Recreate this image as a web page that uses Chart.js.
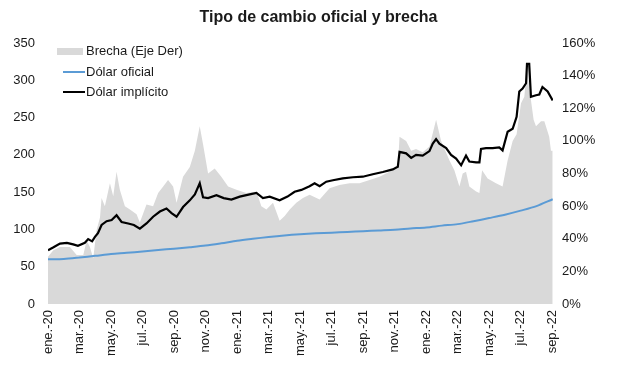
<!DOCTYPE html>
<html><head><meta charset="utf-8">
<script src="https://cdn.jsdelivr.net/npm/chart.js@4"></script>
<style>
html,body{margin:0;padding:0;background:#fff;}
#wrap{position:relative;width:617px;height:378px;overflow:hidden;}
#title{position:absolute;left:0;top:8px;width:637px;text-align:center;font:bold 16px "Liberation Sans",Arial,sans-serif;color:#1a1a1a;}
canvas{position:absolute;left:0;top:0;}
</style></head><body>
<div id="wrap"><canvas id="c" width="617" height="378"></canvas><div id="title">Tipo de cambio oficial y brecha</div></div>
<script>
// x values are months since 1 Jan 2020
const tickMonths = [0,2,4,6,8,10,12,14,16,18,20,22,24,26,28,30,32];
const tickLabels = ['ene.-20','mar.-20','may.-20','jul.-20','sep.-20','nov.-20','ene.-21','mar.-21','may.-21','jul.-21','sep.-21','nov.-21','ene.-22','mar.-22','may.-22','jul.-22','sep.-22'];

const brechaMonths = [0,0.34,0.76,1.39,1.82,2.24,2.45,2.66,2.87,3.08,3.3,3.4,3.61,3.93,4.14,4.35,4.56,4.88,5.2,5.62,5.83,6.25,6.67,6.99,7.31,7.62,7.94,8.16,8.57,9.0,9.32,9.63,9.84,10.16,10.58,11.0,11.43,11.96,12.59,13.23,13.54,13.86,14.28,14.7,15.02,15.34,15.76,16.18,16.6,17.24,17.87,18.5,19.14,19.77,20.41,21.04,21.67,22.2,22.31,22.73,23.05,23.36,23.78,24.21,24.63,24.95,25.48,25.79,26.11,26.32,26.53,26.74,27.17,27.38,27.55,27.9,28.43,28.85,29.17,29.49,29.74,30.02,30.23,30.4,30.54,30.65,30.82,30.97,31.29,31.5,31.81,31.92,32.03];
const brechaValues = [29,33,35,35,30,30,39,35,28,45,53,65,60,74,66,81,70,60,58,55,50,61,60,68,72,76,72,62,78,84,94,109,98,80,83,78,72,70,68,69,60,58,62,51,54,58,62,65,67,64,71,73,74,74,76,78,81,83,102.6,100,94,95,93,96.5,113,100,88,82,72,80,81,72,69,68,82,77,74,72,88,100,104,123,127,145,131,125,113,109,112,112,102.6,94,94];

const oficialMonths = [0,1,2,3,4,5,6,7,8,9,10,11,12,13,14,15,16,17,18,19,20,21,22,23,24,25,26,27,28,29,30,31,32.03];
const oficialValues = [59.9,60.5,62.4,64.6,66.9,68.6,70.5,72.4,74.2,76.2,78.4,81.4,84.7,87.4,89.9,92.0,93.6,94.8,95.7,96.7,97.7,98.7,99.7,101.3,102.7,105.1,107.1,111.0,115.3,119.8,125.2,131.3,140.5];

const implicitoMonths = [0,0.35,0.76,1.2,1.6,1.9,2.34,2.55,2.8,2.98,3.17,3.4,3.72,4.04,4.35,4.67,5.09,5.45,5.83,6.25,6.67,7.1,7.52,7.84,8.16,8.57,9.0,9.32,9.63,9.84,10.16,10.69,11.15,11.64,12.17,12.8,13.23,13.64,14.07,14.7,15.2,15.65,16.08,16.6,16.92,17.24,17.66,18.08,18.71,19.35,19.98,20.61,21.25,21.88,22.2,22.31,22.73,23.05,23.36,23.78,24.21,24.42,24.63,24.84,25.27,25.58,25.9,26.22,26.53,26.74,27.17,27.38,27.48,27.8,28.22,28.64,28.85,29.17,29.49,29.74,29.91,30.12,30.34,30.4,30.54,30.65,30.97,31.18,31.38,31.71,32.03];
const implicitoValues = [72,76,81,82,80,78,82,87,84,90,95,106,111,112.6,119,110,108,106,101,108,117,124,128,122,117,130,139,147,162,143,142,146,142,140,144,147,149,142,144,139,144,150.5,153,158,162,158,164,166,168.5,170,170.7,174,177,180.5,184,204,202,196,200,199,205,215,221,215,209,200,195,186,199,191,190,190,208,209,209,210,206,231,235,251,285,289,296,322,322,278,280,281,291,285,273];

const seriesNames = ['Brecha (Eje Der)','Dólar oficial','Dólar implícito'];

const pts = (xs, ys) => xs.map((x, i) => ({x: x, y: ys[i]}));
const FONT = '"Liberation Sans", Arial, sans-serif';
const TXT = '#1a1a1a';

const legendPlugin = {
  id: 'inlegend',
  afterDraw(chart) {
    const ctx = chart.ctx;
    const ds = chart.data.datasets;
    ctx.save();
    ctx.font = '13px ' + FONT;
    ctx.textBaseline = 'middle';
    ctx.textAlign = 'left';
    ctx.fillStyle = ds[0].backgroundColor;
    ctx.fillRect(57, 48, 26, 7);
    ctx.fillStyle = TXT;
    ctx.fillText(ds[0].label, 86, 51);
    [[1, 72], [2, 92]].forEach(([i, y]) => {
      ctx.strokeStyle = ds[i].borderColor;
      ctx.lineWidth = 2;
      ctx.beginPath(); ctx.moveTo(63, y); ctx.lineTo(85, y); ctx.stroke();
      ctx.fillStyle = TXT;
      ctx.fillText(ds[i].label, 86, y);
    });
    ctx.restore();
  }
};

new Chart(document.getElementById('c'), {
  type: 'line',
  data: {
    datasets: [
      {label: seriesNames[0], data: pts(brechaMonths, brechaValues), yAxisID: 'y2', fill: 'origin',
       backgroundColor: '#d9d9d9', borderWidth: 0, pointRadius: 0, tension: 0, order: 3},
      {label: seriesNames[1], data: pts(oficialMonths, oficialValues), yAxisID: 'y', fill: false,
       borderColor: '#5b9bd5', borderWidth: 2, pointRadius: 0, tension: 0.3, order: 2},
      {label: seriesNames[2], data: pts(implicitoMonths, implicitoValues), yAxisID: 'y', fill: false,
       borderColor: '#000000', borderWidth: 2.2, pointRadius: 0, tension: 0, order: 1}
    ]
  },
  options: {
    responsive: false,
    animation: false,
    layout: {padding: {top: 43, left: 0, right: 0, bottom: 0}},
    plugins: {legend: {display: false}, tooltip: {enabled: false}, title: {display: false}},
    scales: {
      x: {
        type: 'linear', min: 0, max: 32.05,
        grid: {display: false, drawTicks: false}, border: {display: false},
        afterBuildTicks: s => { s.ticks = tickMonths.map(v => ({value: v})); },
        afterFit: s => { s.height = 74; },
        ticks: {autoSkip: false, maxRotation: 90, minRotation: 90, padding: 6,
          font: {size: 13, family: FONT}, color: TXT,
          callback: v => tickLabels[tickMonths.indexOf(v)]}
      },
      y: {
        position: 'left', min: 0, max: 350,
        grid: {display: false, drawTicks: false}, border: {display: false},
        afterFit: s => { s.width = 48; },
        ticks: {stepSize: 50, padding: 13, font: {size: 13, family: FONT}, color: TXT}
      },
      y2: {
        position: 'right', min: 0, max: 160,
        grid: {display: false, drawTicks: false}, border: {display: false},
        afterFit: s => { s.width = 64; },
        ticks: {stepSize: 20, padding: 9, font: {size: 13, family: FONT}, color: TXT,
          callback: v => v + '%'}
      }
    }
  },
  plugins: [legendPlugin]
});
</script>
</body></html>
